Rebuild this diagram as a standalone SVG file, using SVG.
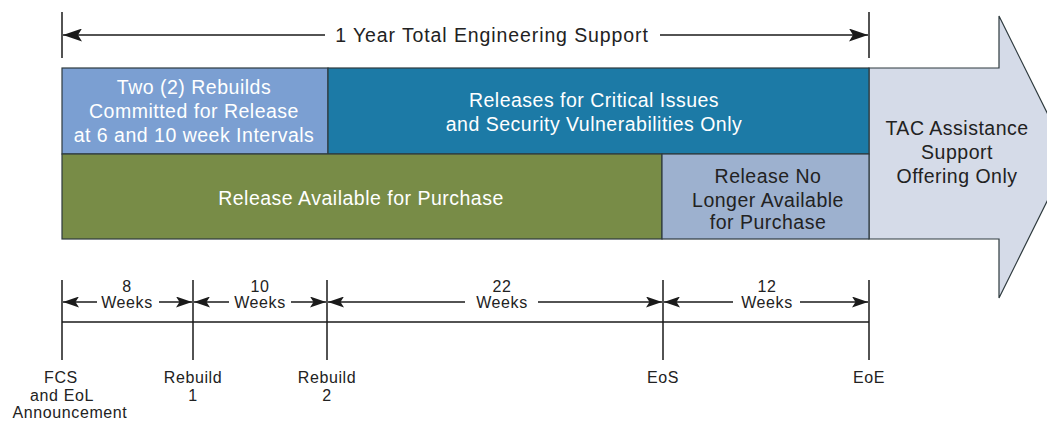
<svg xmlns="http://www.w3.org/2000/svg" width="1047" height="421" viewBox="0 0 1047 421">
<defs>
<marker id="ah" viewBox="0 0 19 13" refX="19" refY="6.5" markerWidth="19" markerHeight="13" markerUnits="userSpaceOnUse" orient="auto-start-reverse">
<path d="M0,0 L19,6.5 L0,13 L4,6.5 Z" fill="#1a1a1a"/>
</marker>
<marker id="ahs" viewBox="0 0 16 11" refX="16" refY="5.5" markerWidth="16" markerHeight="11" markerUnits="userSpaceOnUse" orient="auto-start-reverse">
<path d="M0,0 L16,5.5 L0,11 L3.5,5.5 Z" fill="#1a1a1a"/>
</marker>
</defs>
<style>
.box{stroke:#2e3a3e;stroke-width:1.2}
.t{font-family:"Liberation Sans",Arial,sans-serif;text-anchor:middle}
.w{fill:#ffffff;font-size:19.5px;letter-spacing:0.5px}
.d{fill:#222222;font-size:19.5px;letter-spacing:0.5px}
.s{fill:#222222;font-size:16px;letter-spacing:0.6px}
.ln{stroke:#1a1a1a;stroke-width:1.5;fill:none}
</style>
<rect width="1047" height="421" fill="#ffffff"/>
<g id="tac-arrow">
<polygon class="box" points="869,68 999,68 999,16 1069,157 999,298 999,239 869,239" fill="#d5dbe8"/>
<text class="t d" x="957" y="135">TAC Assistance</text>
<text class="t d" x="957" y="159">Support</text>
<text class="t d" x="957" y="183">Offering Only</text>
</g>
<g id="rebuilds">
<rect class="box" x="62" y="68" width="266" height="86" fill="#7b9fd2"/>
<text class="t w" x="194" y="94">Two (2) Rebuilds</text>
<text class="t w" x="194" y="118">Committed for Release</text>
<text class="t w" x="194" y="142">at 6 and 10 week Intervals</text>
</g>
<g id="critical">
<rect class="box" x="328" y="68" width="541" height="86" fill="#1c7aa6"/>
<text class="t w" x="594" y="107">Releases for Critical Issues</text>
<text class="t w" x="594" y="131">and Security Vulnerabilities Only</text>
</g>
<g id="available">
<rect class="box" x="62" y="154" width="600" height="85" fill="#788c47"/>
<text class="t w" x="361" y="205">Release Available for Purchase</text>
</g>
<g id="not-available">
<rect class="box" x="662" y="154" width="207" height="85" fill="#9db1cf"/>
<text class="t d" x="768" y="183">Release No</text>
<text class="t d" x="768" y="207">Longer Available</text>
<text class="t d" x="768" y="229">for Purchase</text>
</g>
<g id="connectors">
<line class="ln" x1="62" y1="12" x2="62" y2="58"/>
<line class="ln" x1="869" y1="12" x2="869" y2="58"/>
<line class="ln" x1="325" y1="35" x2="63" y2="35" marker-end="url(#ah)"/>
<line class="ln" x1="660" y1="35" x2="868" y2="35" marker-end="url(#ah)"/>
<text class="t" x="492" y="42" font-size="19.5" letter-spacing="0.9" fill="#222222">1 Year Total Engineering Support</text>

<line class="ln" x1="62" y1="280" x2="62" y2="360"/>
<line class="ln" x1="193" y1="280" x2="193" y2="360"/>
<line class="ln" x1="327" y1="280" x2="327" y2="360"/>
<line class="ln" x1="663" y1="280" x2="663" y2="360"/>
<line class="ln" x1="869" y1="280" x2="869" y2="360"/>
<line class="ln" x1="62" y1="322" x2="869" y2="322"/>

<line class="ln" x1="97" y1="302" x2="63" y2="302" marker-end="url(#ahs)"/>
<line class="ln" x1="159" y1="302" x2="192" y2="302" marker-end="url(#ahs)"/>
<line class="ln" x1="229" y1="302" x2="194" y2="302" marker-end="url(#ahs)"/>
<line class="ln" x1="291" y1="302" x2="326" y2="302" marker-end="url(#ahs)"/>
<line class="ln" x1="465" y1="302" x2="328" y2="302" marker-end="url(#ahs)"/>
<line class="ln" x1="538" y1="302" x2="662" y2="302" marker-end="url(#ahs)"/>
<line class="ln" x1="733" y1="302" x2="664" y2="302" marker-end="url(#ahs)"/>
<line class="ln" x1="800" y1="302" x2="868" y2="302" marker-end="url(#ahs)"/>

<text class="t s" x="127" y="292">8</text>
<text class="t s" x="127" y="308">Weeks</text>
<text class="t s" x="260" y="292">10</text>
<text class="t s" x="260" y="308">Weeks</text>
<text class="t s" x="502" y="292">22</text>
<text class="t s" x="502" y="308">Weeks</text>
<text class="t s" x="767" y="292">12</text>
<text class="t s" x="767" y="308">Weeks</text>

<text class="t s" x="61" y="383">FCS</text>
<text class="t s" x="62" y="400.5">and EoL</text>
<text class="t s" x="70" y="418">Announcement</text>
<text class="t s" x="193" y="383">Rebuild</text>
<text class="t s" x="193" y="400.5">1</text>
<text class="t s" x="327" y="383">Rebuild</text>
<text class="t s" x="327" y="400.5">2</text>
<text class="t s" x="663" y="383">EoS</text>
<text class="t s" x="869" y="383">EoE</text>
</g>
</svg>
